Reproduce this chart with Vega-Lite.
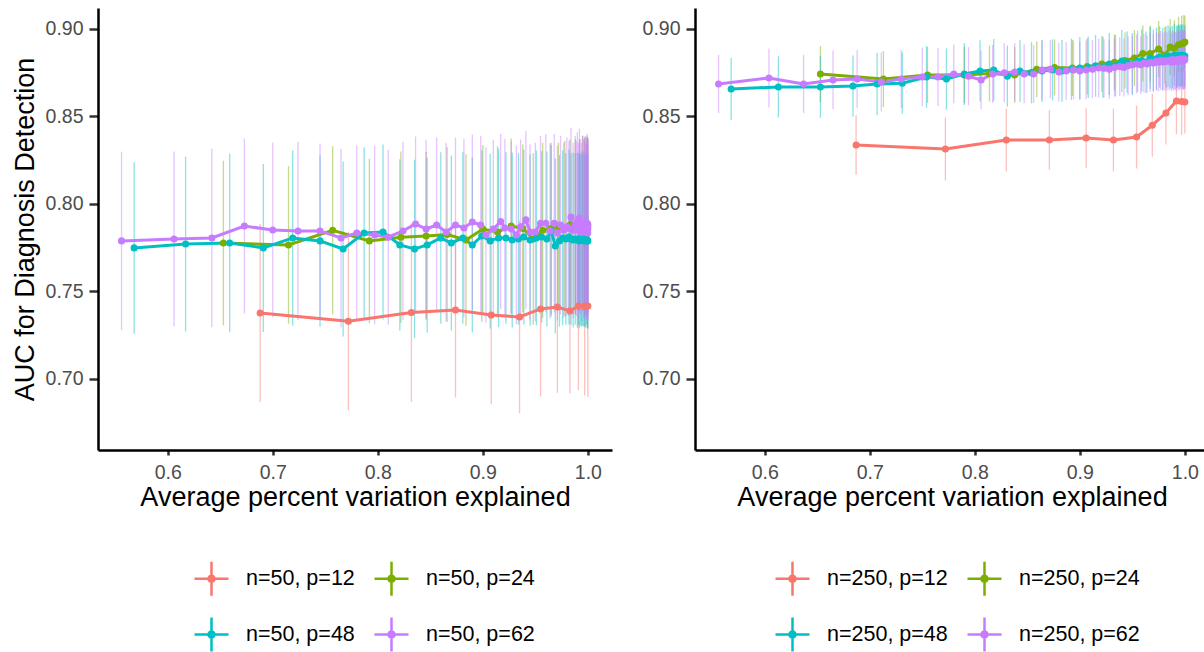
{
"$schema": "https://vega.github.io/schema/vega-lite/v6.json",
"padding": {"left": 11, "top": 8, "right": 0, "bottom": 0},
"background": "white",
"config": {
  "view": {"stroke": null},
  "font": "Liberation Sans",
  "axis": {"grid": false, "domainColor": "black", "domainWidth": 2.5, "tickColor": "#333333", "tickWidth": 2.5, "labelColor": "#4D4D4D", "labelFont": "Liberation Sans", "labelFontSize": 19.5, "labelFlush": false, "labelOverlap": false, "titleFont": "Liberation Sans", "titleFontSize": 27, "titleFontWeight": "normal", "titleColor": "black"},
  "axisX": {"tickSize": 5, "labelPadding": 8, "titlePadding": 3},
  "axisY": {"tickSize": 9, "labelPadding": 6, "titlePadding": 6}
},
"datasets": {
"n50": [
{"s":"n=50, p=12","x":0.688,"y":0.7377,"e":0.051},
{"s":"n=50, p=12","x":0.772,"y":0.7330,"e":0.051},
{"s":"n=50, p=12","x":0.832,"y":0.7380,"e":0.051},
{"s":"n=50, p=12","x":0.874,"y":0.7394,"e":0.050},
{"s":"n=50, p=12","x":0.908,"y":0.7366,"e":0.051},
{"s":"n=50, p=12","x":0.935,"y":0.7354,"e":0.055},
{"s":"n=50, p=12","x":0.955,"y":0.7400,"e":0.050},
{"s":"n=50, p=12","x":0.971,"y":0.7411,"e":0.049},
{"s":"n=50, p=12","x":0.983,"y":0.7389,"e":0.047},
{"s":"n=50, p=12","x":0.991,"y":0.7417,"e":0.048},
{"s":"n=50, p=12","x":0.997,"y":0.7415,"e":0.051},
{"s":"n=50, p=12","x":1.0,"y":0.7417,"e":0.052},
{"s":"n=50, p=24","x":0.653,"y":0.7777,"e":0.047},
{"s":"n=50, p=24","x":0.715,"y":0.7766,"e":0.045},
{"s":"n=50, p=24","x":0.757,"y":0.7850,"e":0.048},
{"s":"n=50, p=24","x":0.792,"y":0.7789,"e":0.047},
{"s":"n=50, p=24","x":0.822,"y":0.7810,"e":0.049},
{"s":"n=50, p=24","x":0.846,"y":0.7817,"e":0.048},
{"s":"n=50, p=24","x":0.866,"y":0.7826,"e":0.050},
{"s":"n=50, p=24","x":0.884,"y":0.7794,"e":0.049},
{"s":"n=50, p=24","x":0.900,"y":0.7857,"e":0.048},
{"s":"n=50, p=24","x":0.914,"y":0.7840,"e":0.049},
{"s":"n=50, p=24","x":0.927,"y":0.7874,"e":0.050},
{"s":"n=50, p=24","x":0.938,"y":0.7860,"e":0.048},
{"s":"n=50, p=24","x":0.948,"y":0.7800,"e":0.049},
{"s":"n=50, p=24","x":0.957,"y":0.7850,"e":0.050},
{"s":"n=50, p=24","x":0.965,"y":0.7860,"e":0.049},
{"s":"n=50, p=24","x":0.972,"y":0.7870,"e":0.048},
{"s":"n=50, p=24","x":0.978,"y":0.7860,"e":0.050},
{"s":"n=50, p=24","x":0.983,"y":0.7880,"e":0.049},
{"s":"n=50, p=24","x":0.988,"y":0.7870,"e":0.050},
{"s":"n=50, p=24","x":0.992,"y":0.7880,"e":0.049},
{"s":"n=50, p=24","x":0.995,"y":0.7890,"e":0.050},
{"s":"n=50, p=24","x":0.997,"y":0.7870,"e":0.051},
{"s":"n=50, p=24","x":0.999,"y":0.7880,"e":0.050},
{"s":"n=50, p=24","x":1.0,"y":0.7880,"e":0.050},
{"s":"n=50, p=48","x":0.568,"y":0.7749,"e":0.049},
{"s":"n=50, p=48","x":0.617,"y":0.7771,"e":0.050},
{"s":"n=50, p=48","x":0.659,"y":0.7777,"e":0.051},
{"s":"n=50, p=48","x":0.691,"y":0.7749,"e":0.048},
{"s":"n=50, p=48","x":0.719,"y":0.7806,"e":0.050},
{"s":"n=50, p=48","x":0.745,"y":0.7789,"e":0.049},
{"s":"n=50, p=48","x":0.767,"y":0.7743,"e":0.050},
{"s":"n=50, p=48","x":0.787,"y":0.7834,"e":0.049},
{"s":"n=50, p=48","x":0.805,"y":0.7840,"e":0.050},
{"s":"n=50, p=48","x":0.821,"y":0.7766,"e":0.049},
{"s":"n=50, p=48","x":0.835,"y":0.7743,"e":0.051},
{"s":"n=50, p=48","x":0.847,"y":0.7766,"e":0.050},
{"s":"n=50, p=48","x":0.860,"y":0.7806,"e":0.049},
{"s":"n=50, p=48","x":0.870,"y":0.7777,"e":0.050},
{"s":"n=50, p=48","x":0.881,"y":0.7806,"e":0.049},
{"s":"n=50, p=48","x":0.890,"y":0.7766,"e":0.050},
{"s":"n=50, p=48","x":0.899,"y":0.7817,"e":0.049},
{"s":"n=50, p=48","x":0.907,"y":0.7789,"e":0.050},
{"s":"n=50, p=48","x":0.915,"y":0.7806,"e":0.051},
{"s":"n=50, p=48","x":0.922,"y":0.7806,"e":0.049},
{"s":"n=50, p=48","x":0.928,"y":0.7794,"e":0.050},
{"s":"n=50, p=48","x":0.934,"y":0.7800,"e":0.049},
{"s":"n=50, p=48","x":0.939,"y":0.7811,"e":0.050},
{"s":"n=50, p=48","x":0.945,"y":0.7794,"e":0.049},
{"s":"n=50, p=48","x":0.951,"y":0.7806,"e":0.050},
{"s":"n=50, p=48","x":0.956,"y":0.7811,"e":0.049},
{"s":"n=50, p=48","x":0.961,"y":0.7800,"e":0.050},
{"s":"n=50, p=48","x":0.965,"y":0.7846,"e":0.049},
{"s":"n=50, p=48","x":0.969,"y":0.7760,"e":0.050},
{"s":"n=50, p=48","x":0.973,"y":0.7789,"e":0.049},
{"s":"n=50, p=48","x":0.976,"y":0.7806,"e":0.050},
{"s":"n=50, p=48","x":0.979,"y":0.7800,"e":0.049},
{"s":"n=50, p=48","x":0.982,"y":0.7811,"e":0.050},
{"s":"n=50, p=48","x":0.984,"y":0.7800,"e":0.049},
{"s":"n=50, p=48","x":0.986,"y":0.7794,"e":0.050},
{"s":"n=50, p=48","x":0.988,"y":0.7800,"e":0.049},
{"s":"n=50, p=48","x":0.990,"y":0.7794,"e":0.050},
{"s":"n=50, p=48","x":0.991,"y":0.7800,"e":0.049},
{"s":"n=50, p=48","x":0.992,"y":0.7789,"e":0.050},
{"s":"n=50, p=48","x":0.993,"y":0.7794,"e":0.049},
{"s":"n=50, p=48","x":0.994,"y":0.7800,"e":0.050},
{"s":"n=50, p=48","x":0.995,"y":0.7794,"e":0.049},
{"s":"n=50, p=48","x":0.996,"y":0.7800,"e":0.050},
{"s":"n=50, p=48","x":0.997,"y":0.7789,"e":0.049},
{"s":"n=50, p=48","x":0.998,"y":0.7794,"e":0.050},
{"s":"n=50, p=48","x":0.999,"y":0.7800,"e":0.049},
{"s":"n=50, p=48","x":0.9995,"y":0.7789,"e":0.050},
{"s":"n=50, p=48","x":1.0,"y":0.7789,"e":0.050},
{"s":"n=50, p=62","x":0.556,"y":0.7789,"e":0.051},
{"s":"n=50, p=62","x":0.606,"y":0.7800,"e":0.050},
{"s":"n=50, p=62","x":0.642,"y":0.7806,"e":0.051},
{"s":"n=50, p=62","x":0.673,"y":0.7874,"e":0.050},
{"s":"n=50, p=62","x":0.700,"y":0.7851,"e":0.050},
{"s":"n=50, p=62","x":0.724,"y":0.7846,"e":0.051},
{"s":"n=50, p=62","x":0.745,"y":0.7846,"e":0.050},
{"s":"n=50, p=62","x":0.765,"y":0.7806,"e":0.051},
{"s":"n=50, p=62","x":0.780,"y":0.7834,"e":0.050},
{"s":"n=50, p=62","x":0.797,"y":0.7823,"e":0.051},
{"s":"n=50, p=62","x":0.810,"y":0.7810,"e":0.050},
{"s":"n=50, p=62","x":0.824,"y":0.7846,"e":0.051},
{"s":"n=50, p=62","x":0.836,"y":0.7886,"e":0.050},
{"s":"n=50, p=62","x":0.846,"y":0.7857,"e":0.051},
{"s":"n=50, p=62","x":0.856,"y":0.7880,"e":0.050},
{"s":"n=50, p=62","x":0.865,"y":0.7840,"e":0.051},
{"s":"n=50, p=62","x":0.874,"y":0.7880,"e":0.050},
{"s":"n=50, p=62","x":0.882,"y":0.7863,"e":0.051},
{"s":"n=50, p=62","x":0.890,"y":0.7897,"e":0.050},
{"s":"n=50, p=62","x":0.898,"y":0.7880,"e":0.051},
{"s":"n=50, p=62","x":0.903,"y":0.7823,"e":0.050},
{"s":"n=50, p=62","x":0.910,"y":0.7857,"e":0.051},
{"s":"n=50, p=62","x":0.917,"y":0.7900,"e":0.050},
{"s":"n=50, p=62","x":0.921,"y":0.7863,"e":0.051},
{"s":"n=50, p=62","x":0.927,"y":0.7857,"e":0.050},
{"s":"n=50, p=62","x":0.932,"y":0.7823,"e":0.051},
{"s":"n=50, p=62","x":0.936,"y":0.7869,"e":0.050},
{"s":"n=50, p=62","x":0.941,"y":0.7909,"e":0.051},
{"s":"n=50, p=62","x":0.945,"y":0.7840,"e":0.050},
{"s":"n=50, p=62","x":0.950,"y":0.7840,"e":0.051},
{"s":"n=50, p=62","x":0.955,"y":0.7890,"e":0.050},
{"s":"n=50, p=62","x":0.960,"y":0.7890,"e":0.051},
{"s":"n=50, p=62","x":0.964,"y":0.7846,"e":0.050},
{"s":"n=50, p=62","x":0.968,"y":0.7890,"e":0.051},
{"s":"n=50, p=62","x":0.971,"y":0.7834,"e":0.050},
{"s":"n=50, p=62","x":0.974,"y":0.7880,"e":0.051},
{"s":"n=50, p=62","x":0.977,"y":0.7850,"e":0.050},
{"s":"n=50, p=62","x":0.980,"y":0.7870,"e":0.051},
{"s":"n=50, p=62","x":0.982,"y":0.7860,"e":0.050},
{"s":"n=50, p=62","x":0.984,"y":0.7926,"e":0.051},
{"s":"n=50, p=62","x":0.986,"y":0.7850,"e":0.050},
{"s":"n=50, p=62","x":0.988,"y":0.7880,"e":0.051},
{"s":"n=50, p=62","x":0.989,"y":0.7860,"e":0.050},
{"s":"n=50, p=62","x":0.990,"y":0.7900,"e":0.051},
{"s":"n=50, p=62","x":0.991,"y":0.7850,"e":0.050},
{"s":"n=50, p=62","x":0.992,"y":0.7920,"e":0.051},
{"s":"n=50, p=62","x":0.993,"y":0.7870,"e":0.050},
{"s":"n=50, p=62","x":0.994,"y":0.7840,"e":0.051},
{"s":"n=50, p=62","x":0.995,"y":0.7890,"e":0.050},
{"s":"n=50, p=62","x":0.996,"y":0.7860,"e":0.051},
{"s":"n=50, p=62","x":0.9965,"y":0.7880,"e":0.050},
{"s":"n=50, p=62","x":0.997,"y":0.7850,"e":0.051},
{"s":"n=50, p=62","x":0.9975,"y":0.7890,"e":0.050},
{"s":"n=50, p=62","x":0.998,"y":0.7870,"e":0.051},
{"s":"n=50, p=62","x":0.9985,"y":0.7840,"e":0.050},
{"s":"n=50, p=62","x":0.999,"y":0.7880,"e":0.051},
{"s":"n=50, p=62","x":0.9993,"y":0.7860,"e":0.050},
{"s":"n=50, p=62","x":0.9995,"y":0.7890,"e":0.051},
{"s":"n=50, p=62","x":0.9997,"y":0.7850,"e":0.050},
{"s":"n=50, p=62","x":0.9998,"y":0.7870,"e":0.051},
{"s":"n=50, p=62","x":0.9999,"y":0.7834,"e":0.050},
{"s":"n=50, p=62","x":1.0,"y":0.7860,"e":0.051}
],
"n250": [
{"s":"n=250, p=12","x":0.687,"y":0.8337,"e":0.017},
{"s":"n=250, p=12","x":0.772,"y":0.8314,"e":0.018},
{"s":"n=250, p=12","x":0.830,"y":0.8366,"e":0.018},
{"s":"n=250, p=12","x":0.871,"y":0.8366,"e":0.017},
{"s":"n=250, p=12","x":0.906,"y":0.8377,"e":0.017},
{"s":"n=250, p=12","x":0.932,"y":0.8366,"e":0.018},
{"s":"n=250, p=12","x":0.954,"y":0.8383,"e":0.018},
{"s":"n=250, p=12","x":0.969,"y":0.8450,"e":0.018},
{"s":"n=250, p=12","x":0.982,"y":0.8520,"e":0.018},
{"s":"n=250, p=12","x":0.992,"y":0.8589,"e":0.019},
{"s":"n=250, p=12","x":0.997,"y":0.8586,"e":0.019},
{"s":"n=250, p=12","x":1.0,"y":0.8583,"e":0.018},
{"s":"n=250, p=24","x":0.653,"y":0.8743,"e":0.016},
{"s":"n=250, p=24","x":0.713,"y":0.8714,"e":0.016},
{"s":"n=250, p=24","x":0.755,"y":0.8737,"e":0.016},
{"s":"n=250, p=24","x":0.790,"y":0.8737,"e":0.016},
{"s":"n=250, p=24","x":0.814,"y":0.8745,"e":0.016},
{"s":"n=250, p=24","x":0.838,"y":0.8737,"e":0.016},
{"s":"n=250, p=24","x":0.859,"y":0.8770,"e":0.016},
{"s":"n=250, p=24","x":0.876,"y":0.8780,"e":0.016},
{"s":"n=250, p=24","x":0.893,"y":0.8777,"e":0.016},
{"s":"n=250, p=24","x":0.907,"y":0.8785,"e":0.016},
{"s":"n=250, p=24","x":0.921,"y":0.8800,"e":0.016},
{"s":"n=250, p=24","x":0.933,"y":0.8810,"e":0.016},
{"s":"n=250, p=24","x":0.943,"y":0.8820,"e":0.016},
{"s":"n=250, p=24","x":0.952,"y":0.8834,"e":0.016},
{"s":"n=250, p=24","x":0.960,"y":0.8860,"e":0.016},
{"s":"n=250, p=24","x":0.967,"y":0.8860,"e":0.016},
{"s":"n=250, p=24","x":0.975,"y":0.8886,"e":0.016},
{"s":"n=250, p=24","x":0.981,"y":0.8850,"e":0.016},
{"s":"n=250, p=24","x":0.986,"y":0.8897,"e":0.016},
{"s":"n=250, p=24","x":0.990,"y":0.8890,"e":0.016},
{"s":"n=250, p=24","x":0.994,"y":0.8910,"e":0.016},
{"s":"n=250, p=24","x":0.997,"y":0.8915,"e":0.016},
{"s":"n=250, p=24","x":0.999,"y":0.8920,"e":0.016},
{"s":"n=250, p=24","x":1.0,"y":0.8926,"e":0.015},
{"s":"n=250, p=48","x":0.568,"y":0.8657,"e":0.0177},
{"s":"n=250, p=48","x":0.613,"y":0.8669,"e":0.0175},
{"s":"n=250, p=48","x":0.653,"y":0.8669,"e":0.0177},
{"s":"n=250, p=48","x":0.684,"y":0.8674,"e":0.0175},
{"s":"n=250, p=48","x":0.707,"y":0.8686,"e":0.0177},
{"s":"n=250, p=48","x":0.731,"y":0.8690,"e":0.0175},
{"s":"n=250, p=48","x":0.754,"y":0.8726,"e":0.0177},
{"s":"n=250, p=48","x":0.773,"y":0.8714,"e":0.0175},
{"s":"n=250, p=48","x":0.790,"y":0.8743,"e":0.0177},
{"s":"n=250, p=48","x":0.805,"y":0.8760,"e":0.0175},
{"s":"n=250, p=48","x":0.818,"y":0.8766,"e":0.0177},
{"s":"n=250, p=48","x":0.831,"y":0.8730,"e":0.0175},
{"s":"n=250, p=48","x":0.843,"y":0.8760,"e":0.0177},
{"s":"n=250, p=48","x":0.854,"y":0.8750,"e":0.0175},
{"s":"n=250, p=48","x":0.864,"y":0.8760,"e":0.0177},
{"s":"n=250, p=48","x":0.874,"y":0.8766,"e":0.0175},
{"s":"n=250, p=48","x":0.883,"y":0.8760,"e":0.0177},
{"s":"n=250, p=48","x":0.892,"y":0.8770,"e":0.0175},
{"s":"n=250, p=48","x":0.900,"y":0.8777,"e":0.0177},
{"s":"n=250, p=48","x":0.908,"y":0.8780,"e":0.0175},
{"s":"n=250, p=48","x":0.915,"y":0.8790,"e":0.0177},
{"s":"n=250, p=48","x":0.922,"y":0.8780,"e":0.0175},
{"s":"n=250, p=48","x":0.928,"y":0.8800,"e":0.0177},
{"s":"n=250, p=48","x":0.934,"y":0.8790,"e":0.0175},
{"s":"n=250, p=48","x":0.940,"y":0.8817,"e":0.0177},
{"s":"n=250, p=48","x":0.945,"y":0.8810,"e":0.0175},
{"s":"n=250, p=48","x":0.950,"y":0.8800,"e":0.0177},
{"s":"n=250, p=48","x":0.955,"y":0.8815,"e":0.0175},
{"s":"n=250, p=48","x":0.959,"y":0.8820,"e":0.0177},
{"s":"n=250, p=48","x":0.963,"y":0.8810,"e":0.0175},
{"s":"n=250, p=48","x":0.967,"y":0.8834,"e":0.0177},
{"s":"n=250, p=48","x":0.970,"y":0.8820,"e":0.0175},
{"s":"n=250, p=48","x":0.973,"y":0.8830,"e":0.0177},
{"s":"n=250, p=48","x":0.976,"y":0.8840,"e":0.0175},
{"s":"n=250, p=48","x":0.979,"y":0.8830,"e":0.0177},
{"s":"n=250, p=48","x":0.982,"y":0.8840,"e":0.0175},
{"s":"n=250, p=48","x":0.984,"y":0.8845,"e":0.0177},
{"s":"n=250, p=48","x":0.986,"y":0.8835,"e":0.0175},
{"s":"n=250, p=48","x":0.988,"y":0.8840,"e":0.0177},
{"s":"n=250, p=48","x":0.990,"y":0.8850,"e":0.0175},
{"s":"n=250, p=48","x":0.992,"y":0.8840,"e":0.0177},
{"s":"n=250, p=48","x":0.993,"y":0.8845,"e":0.0175},
{"s":"n=250, p=48","x":0.994,"y":0.8850,"e":0.0177},
{"s":"n=250, p=48","x":0.995,"y":0.8845,"e":0.0175},
{"s":"n=250, p=48","x":0.996,"y":0.8850,"e":0.0177},
{"s":"n=250, p=48","x":0.997,"y":0.8846,"e":0.0175},
{"s":"n=250, p=48","x":0.998,"y":0.8850,"e":0.0177},
{"s":"n=250, p=48","x":1.0,"y":0.8846,"e":0.0175},
{"s":"n=250, p=62","x":0.556,"y":0.8686,"e":0.0166},
{"s":"n=250, p=62","x":0.604,"y":0.8720,"e":0.0168},
{"s":"n=250, p=62","x":0.637,"y":0.8686,"e":0.0166},
{"s":"n=250, p=62","x":0.665,"y":0.8709,"e":0.0168},
{"s":"n=250, p=62","x":0.688,"y":0.8714,"e":0.0166},
{"s":"n=250, p=62","x":0.711,"y":0.8697,"e":0.0168},
{"s":"n=250, p=62","x":0.730,"y":0.8714,"e":0.0166},
{"s":"n=250, p=62","x":0.750,"y":0.8726,"e":0.0168},
{"s":"n=250, p=62","x":0.765,"y":0.8726,"e":0.0166},
{"s":"n=250, p=62","x":0.780,"y":0.8743,"e":0.0168},
{"s":"n=250, p=62","x":0.794,"y":0.8730,"e":0.0166},
{"s":"n=250, p=62","x":0.806,"y":0.8709,"e":0.0168},
{"s":"n=250, p=62","x":0.817,"y":0.8743,"e":0.0166},
{"s":"n=250, p=62","x":0.828,"y":0.8750,"e":0.0168},
{"s":"n=250, p=62","x":0.838,"y":0.8754,"e":0.0166},
{"s":"n=250, p=62","x":0.847,"y":0.8743,"e":0.0168},
{"s":"n=250, p=62","x":0.856,"y":0.8743,"e":0.0166},
{"s":"n=250, p=62","x":0.864,"y":0.8766,"e":0.0168},
{"s":"n=250, p=62","x":0.872,"y":0.8770,"e":0.0166},
{"s":"n=250, p=62","x":0.880,"y":0.8754,"e":0.0168},
{"s":"n=250, p=62","x":0.887,"y":0.8760,"e":0.0166},
{"s":"n=250, p=62","x":0.894,"y":0.8765,"e":0.0168},
{"s":"n=250, p=62","x":0.900,"y":0.8760,"e":0.0166},
{"s":"n=250, p=62","x":0.906,"y":0.8766,"e":0.0168},
{"s":"n=250, p=62","x":0.912,"y":0.8770,"e":0.0166},
{"s":"n=250, p=62","x":0.918,"y":0.8777,"e":0.0168},
{"s":"n=250, p=62","x":0.923,"y":0.8775,"e":0.0166},
{"s":"n=250, p=62","x":0.928,"y":0.8770,"e":0.0168},
{"s":"n=250, p=62","x":0.933,"y":0.8780,"e":0.0166},
{"s":"n=250, p=62","x":0.938,"y":0.8785,"e":0.0168},
{"s":"n=250, p=62","x":0.942,"y":0.8780,"e":0.0166},
{"s":"n=250, p=62","x":0.946,"y":0.8790,"e":0.0168},
{"s":"n=250, p=62","x":0.950,"y":0.8795,"e":0.0166},
{"s":"n=250, p=62","x":0.954,"y":0.8800,"e":0.0168},
{"s":"n=250, p=62","x":0.958,"y":0.8795,"e":0.0166},
{"s":"n=250, p=62","x":0.961,"y":0.8805,"e":0.0168},
{"s":"n=250, p=62","x":0.964,"y":0.8800,"e":0.0166},
{"s":"n=250, p=62","x":0.967,"y":0.8810,"e":0.0168},
{"s":"n=250, p=62","x":0.970,"y":0.8805,"e":0.0166},
{"s":"n=250, p=62","x":0.973,"y":0.8815,"e":0.0168},
{"s":"n=250, p=62","x":0.975,"y":0.8810,"e":0.0166},
{"s":"n=250, p=62","x":0.977,"y":0.8820,"e":0.0168},
{"s":"n=250, p=62","x":0.979,"y":0.8812,"e":0.0166},
{"s":"n=250, p=62","x":0.981,"y":0.8818,"e":0.0168},
{"s":"n=250, p=62","x":0.983,"y":0.8815,"e":0.0166},
{"s":"n=250, p=62","x":0.985,"y":0.8820,"e":0.0168},
{"s":"n=250, p=62","x":0.987,"y":0.8810,"e":0.0166},
{"s":"n=250, p=62","x":0.988,"y":0.8825,"e":0.0168},
{"s":"n=250, p=62","x":0.989,"y":0.8815,"e":0.0166},
{"s":"n=250, p=62","x":0.990,"y":0.8822,"e":0.0168},
{"s":"n=250, p=62","x":0.991,"y":0.8818,"e":0.0166},
{"s":"n=250, p=62","x":0.992,"y":0.8812,"e":0.0168},
{"s":"n=250, p=62","x":0.993,"y":0.8826,"e":0.0166},
{"s":"n=250, p=62","x":0.994,"y":0.8820,"e":0.0168},
{"s":"n=250, p=62","x":0.995,"y":0.8815,"e":0.0166},
{"s":"n=250, p=62","x":0.996,"y":0.8828,"e":0.0168},
{"s":"n=250, p=62","x":0.997,"y":0.8820,"e":0.0166},
{"s":"n=250, p=62","x":0.998,"y":0.8825,"e":0.0168},
{"s":"n=250, p=62","x":0.9985,"y":0.8818,"e":0.0166},
{"s":"n=250, p=62","x":0.999,"y":0.8830,"e":0.0168},
{"s":"n=250, p=62","x":0.9995,"y":0.8822,"e":0.0166},
{"s":"n=250, p=62","x":1.0,"y":0.8826,"e":0.0168}
]
},
"spacing": 30,
"resolve": {"scale": {"color": "independent"}, "legend": {"color": "independent"}},
"hconcat": [
{
  "name": "left",
  "width": 514, "height": 442,
  "data": {"name": "n50"},
  "encoding": {
    "x": {"field": "x", "type": "quantitative", "scale": {"domain": [0.5336, 1.023], "nice": false, "zero": false}, "axis": {"values": [0.6, 0.7, 0.8, 0.9, 1.0], "format": ".1f"}, "title": "Average percent variation explained"},
    "y": {"field": "y", "type": "quantitative", "scale": {"domain": [0.6594, 0.912], "nice": false, "zero": false}, "axis": {"values": [0.70, 0.75, 0.80, 0.85, 0.90], "format": ".2f"}, "title": "AUC for Diagnosis Detection"},
    "color": {"field": "s", "type": "nominal", "scale": {"range": ["#F8766D", "#7CAE00", "#00BFC4", "#C77CFF"]},
      "legend": {"title": null, "orient": "none", "direction": "horizontal", "legendX": 95, "legendY": 552, "columns": 2, "columnPadding": 14, "rowPadding": 11, "padding": 0,
        "symbolType": "M-1,0H1M0,-1V1M0.18,0A0.18,0.18,0,1,1,-0.18,0A0.18,0.18,0,1,1,0.18,0M0.08,0A0.08,0.08,0,1,1,-0.08,0A0.08,0.08,0,1,1,0.08,0",
        "symbolSize": 1156, "symbolStrokeWidth": 2.5, "labelFontSize": 21.5, "labelColor": "black", "labelFont": "Liberation Sans", "labelOffset": 16,
        "encode": {"symbols": {"update": {"fill": {"scale": "left_color", "field": "value"}, "stroke": {"scale": "left_color", "field": "value"}, "opacity": {"value": 1}}}}}}
  },
  "layer": [
    {"mark": {"type": "errorbar", "rule": {"strokeWidth": 1.3, "opacity": 0.45}}, "encoding": {"yError": {"field": "e"}}},
    {"mark": {"type": "line", "strokeWidth": 3}},
    {"mark": {"type": "point", "filled": true, "size": 50, "opacity": 1}}
  ]
},
{
  "name": "right",
  "width": 514, "height": 442,
  "data": {"name": "n250"},
  "encoding": {
    "x": {"field": "x", "type": "quantitative", "scale": {"domain": [0.5336, 1.023], "nice": false, "zero": false}, "axis": {"values": [0.6, 0.7, 0.8, 0.9, 1.0], "format": ".1f"}, "title": "Average percent variation explained"},
    "y": {"field": "y", "type": "quantitative", "scale": {"domain": [0.6594, 0.912], "nice": false, "zero": false}, "axis": {"values": [0.70, 0.75, 0.80, 0.85, 0.90], "format": ".2f"}, "title": null},
    "color": {"field": "s", "type": "nominal", "scale": {"range": ["#F8766D", "#7CAE00", "#00BFC4", "#C77CFF"]},
      "legend": {"title": null, "orient": "none", "direction": "horizontal", "legendX": 79, "legendY": 552, "columns": 2, "columnPadding": 14, "rowPadding": 11, "padding": 0,
        "symbolType": "M-1,0H1M0,-1V1M0.18,0A0.18,0.18,0,1,1,-0.18,0A0.18,0.18,0,1,1,0.18,0M0.08,0A0.08,0.08,0,1,1,-0.08,0A0.08,0.08,0,1,1,0.08,0",
        "symbolSize": 1156, "symbolStrokeWidth": 2.5, "labelFontSize": 21.5, "labelColor": "black", "labelFont": "Liberation Sans", "labelOffset": 16,
        "encode": {"symbols": {"update": {"fill": {"scale": "right_color", "field": "value"}, "stroke": {"scale": "right_color", "field": "value"}, "opacity": {"value": 1}}}}}}
  },
  "layer": [
    {"mark": {"type": "errorbar", "rule": {"strokeWidth": 1.3, "opacity": 0.45}}, "encoding": {"yError": {"field": "e"}}},
    {"mark": {"type": "line", "strokeWidth": 3}},
    {"mark": {"type": "point", "filled": true, "size": 50, "opacity": 1}}
  ]
}
]
}
